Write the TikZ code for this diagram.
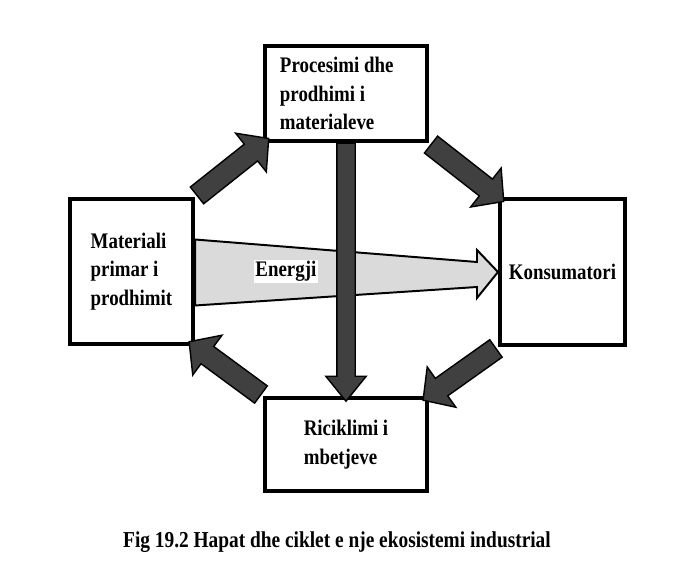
\documentclass[tikz,border=0pt]{standalone}
\usepackage{fontspec}
\setmainfont{Liberation Serif}[FakeStretch=0.85]
\usepackage{tikz}
\usetikzlibrary{shapes.arrows,positioning,calc}
\definecolor{blkgray}{RGB}{64,64,64}
\definecolor{energygray}{RGB}{218,218,218}

\begin{document}
\begin{tikzpicture}[
    x=0.025cm, y=-0.025cm,
    font=\fontsize{15.8}{20.4}\selectfont\bfseries,
    box/.style={rectangle, draw, line width=0.1cm, fill=white, align=left},
    blk/.style={single arrow, draw=black, line width=1pt, fill=blkgray, inner xsep=0pt, inner ysep=0.25cm, single arrow head extend=0.35cm, single arrow tip angle=95, outer sep=0pt},
    energy/.style={draw=black, line width=1.4pt, fill=energygray, line join=miter}
]
    \useasboundingbox (0,0) rectangle (683,576);

    % Boxes
    \node[box, minimum width=3.075cm, minimum height=3.625cm] (mat) at (131.5,271.5) {Materiali\\primar i\\prodhimit};
    \node[box, minimum width=4.05cm, minimum height=2.375cm, text width=3.3cm, align=flush left] (proc) at (346,93.5) {Procesimi dhe\\prodhimi i\\materialeve};
    \node[box, minimum width=3.125cm, minimum height=3.65cm] (kons) at (562.5,272) {Konsumatori};
    \node[box, minimum width=4.05cm, minimum height=2.325cm] (ric) at (346,444.5) {Riciklimi i\\mbetjeve};

    % Energy flow
    \draw[energy] ($(mat.east)+(0,-32)$) -- ($(kons.west)+(-21,-10)$) -- ++(0,-12) -- (kons.west)
        -- ($(kons.west)+(-21,26)$) -- ++(0,-11) -- ($(mat.east)+(0,34)$) -- cycle;
    \node[fill=white, inner sep=1pt] (energylabel) at ($(mat.east)!0.3!(kons.west)$) {Energji};

    % Cycle arrows
    \foreach \from/\to/\name in {mat.north east/proc.south west/matproc, proc.south east/kons.north west/prockons,
        kons.south west/ric.north east/konsric, ric.north west/mat.south east/ricmat}
        \path let \p1=(\from), \p2=(\to), \n1={atan2(\y2-\y1,\x2-\x1)}, \n2={veclen(\x2-\x1,\y2-\y1)+3.5} in
            node[blk, rotate=\n1, minimum height=\n2] (\name) at ($(\p1)!0.5!(\p2)$) {};
    \node[blk, inner ysep=0.2125cm, single arrow head extend=0.275cm, single arrow tip angle=78,
        rotate=-90, minimum height=6.45cm] (procric) at ($(proc.south)!0.5!(ric.north)+(0,-3)$) {};

    % Caption
    \node[below=0.85cm of ric, xshift=-0.225cm, font=\fontsize{16.2}{20}\selectfont\bfseries] (caption) {Fig 19.2 Hapat dhe ciklet e nje ekosistemi industrial};
\end{tikzpicture}
\end{document}
